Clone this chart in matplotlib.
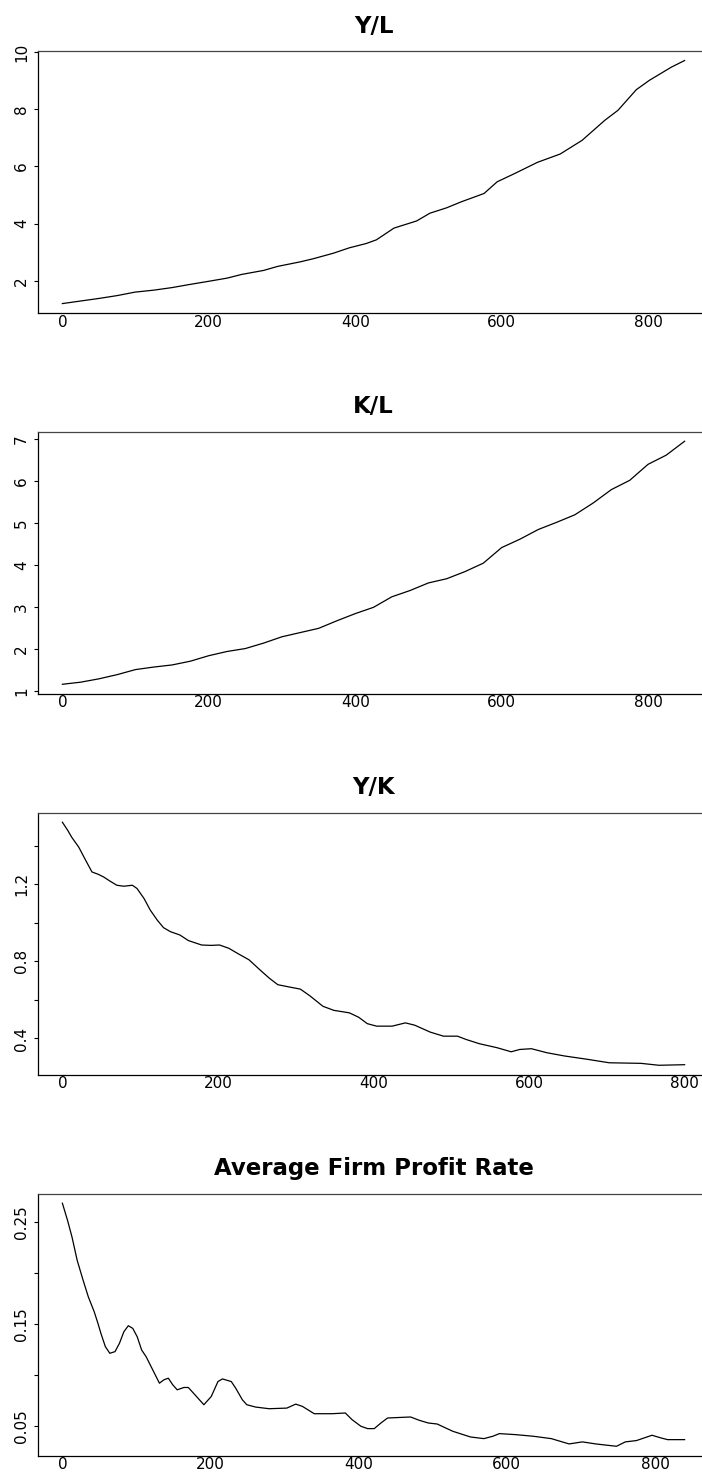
import numpy as np
import matplotlib
matplotlib.use("Agg")
import matplotlib.pyplot as plt

plt.rcParams["font.family"] = ["DejaVu Sans"]

# Y/L : output per worker
yl_t = [0, 25, 50, 75, 99, 125, 150, 172, 200, 225, 245, 275, 294, 325, 343,
        370, 392, 415, 429, 453, 484, 502, 525, 545, 576, 594, 618, 649, 680,
        710, 741, 759, 784, 802, 832, 850]
yl_val = [1.20, 1.29, 1.38, 1.48, 1.60, 1.67, 1.76, 1.86, 1.98, 2.09, 2.22,
          2.36, 2.50, 2.66, 2.77, 2.96, 3.15, 3.30, 3.43, 3.84, 4.09, 4.36,
          4.55, 4.76, 5.05, 5.46, 5.75, 6.14, 6.43, 6.91, 7.61, 7.96, 8.68,
          9.01, 9.47, 9.70]

# K/L : capital per worker
kl_t = [0, 25, 50, 75, 100, 125, 150, 175, 200, 225, 250, 275, 300, 325, 350,
        375, 400, 425, 450, 475, 500, 525, 550, 575, 600, 625, 650, 675, 700,
        725, 750, 775, 800, 825, 850]
kl_val = [1.17, 1.22, 1.30, 1.40, 1.52, 1.58, 1.63, 1.72, 1.85, 1.95, 2.02,
          2.15, 2.30, 2.40, 2.50, 2.68, 2.85, 3.00, 3.25, 3.40, 3.58, 3.68,
          3.85, 4.05, 4.42, 4.62, 4.85, 5.02, 5.20, 5.48, 5.80, 6.02, 6.40,
          6.62, 6.95]

# Y/K : output-capital ratio
yk_t = [0, 7, 12, 21, 30, 38, 46, 53, 61, 70, 79, 90, 96, 105, 113, 122, 130,
        139, 151, 162, 179, 191, 202, 214, 225, 240, 254, 266, 277, 292, 306,
        318, 335, 349, 369, 381, 392, 404, 424, 441, 453, 473, 490, 508, 519,
        536, 559, 577, 588, 603, 623, 646, 675, 703, 744, 767, 800]
yk_val = [1.522, 1.479, 1.444, 1.393, 1.324, 1.264, 1.252, 1.238, 1.217,
          1.195, 1.190, 1.195, 1.178, 1.126, 1.066, 1.014, 0.975, 0.954,
          0.937, 0.908, 0.885, 0.883, 0.885, 0.868, 0.842, 0.808, 0.756,
          0.713, 0.679, 0.667, 0.656, 0.622, 0.567, 0.546, 0.533, 0.510,
          0.477, 0.464, 0.464, 0.481, 0.469, 0.433, 0.412, 0.412, 0.395,
          0.373, 0.352, 0.331, 0.343, 0.347, 0.326, 0.309, 0.292, 0.274,
          0.271, 0.261, 0.264]

# average firm profit rate
pr_t = [0, 7, 13, 20, 28, 35, 43, 48, 52, 58, 64, 71, 77, 83, 89, 95, 101,
        107, 113, 122, 131, 137, 143, 149, 155, 164, 170, 179, 191, 201, 210,
        216, 228, 234, 243, 249, 261, 279, 303, 315, 324, 340, 364, 382, 391,
        403, 412, 421, 430, 439, 470, 482, 494, 506, 527, 551, 569, 581, 590,
        612, 636, 660, 684, 702, 720, 748, 760, 775, 796, 808, 817, 840]
pr_val = [0.2686, 0.2517, 0.2354, 0.2126, 0.1931, 0.1769, 0.1622, 0.1509,
          0.1411, 0.1281, 0.1216, 0.1232, 0.1313, 0.1427, 0.1486, 0.1460,
          0.1378, 0.1248, 0.1183, 0.1053, 0.0923, 0.0956, 0.0972, 0.0907,
          0.0858, 0.0881, 0.0881, 0.0809, 0.0712, 0.0793, 0.0939, 0.0965,
          0.0939, 0.0874, 0.0760, 0.0712, 0.0689, 0.0673, 0.0679, 0.0718,
          0.0696, 0.0624, 0.0624, 0.0631, 0.0566, 0.0501, 0.0478, 0.0478,
          0.0533, 0.0582, 0.0592, 0.0559, 0.0533, 0.0523, 0.0452, 0.0396,
          0.0380, 0.0403, 0.0429, 0.0419, 0.0403, 0.0380, 0.0328, 0.0348,
          0.0328, 0.0305, 0.0348, 0.0361, 0.0413, 0.0387, 0.0370, 0.0370]

panels = [
    ("Y/L", yl_t, yl_val, [2, 4, 6, 8, 10], ["2", "4", "6", "8", "10"]),
    ("K/L", kl_t, kl_val, [1, 2, 3, 4, 5, 6, 7],
     ["1", "2", "3", "4", "5", "6", "7"]),
    ("Y/K", yk_t, yk_val, [0.4, 0.6, 0.8, 1.0, 1.2, 1.4],
     ["0.4", "", "0.8", "", "1.2", ""]),
    ("Average Firm Profit Rate", pr_t, pr_val,
     [0.05, 0.10, 0.15, 0.20, 0.25], ["0.05", "", "0.15", "", "0.25"]),
]

W, H = 702, 1472
fig = plt.figure(figsize=(W / 100, H / 100), dpi=100)

box_bottoms = [313.3, 694, 1075, 1456]
box_h = 262.5
for (title, t, v, yt, ylab), bpx in zip(panels, box_bottoms):
    ax = fig.add_axes([37.5 / W, 1 - bpx / H, 672 / W, box_h / H])
    ax.plot(t, v, color="black", lw=0.9)

    # R-style 4% padding around the data range
    tr = max(t) - min(t)
    ax.set_xlim(min(t) - 0.04 * tr, max(t) + 0.04 * tr)
    vr = max(v) - min(v)
    ax.set_ylim(min(v) - 0.04 * vr, max(v) + 0.04 * vr)

    ax.set_xticks([0, 200, 400, 600, 800])
    ax.set_yticks(yt)
    ax.set_yticklabels(ylab, rotation=90, va="center")
    ax.tick_params(axis="x", length=0, pad=1, labelsize=11)
    ax.tick_params(axis="y", length=3.2, width=0.8, pad=3, labelsize=11)
    for s in ax.spines.values():
        s.set_linewidth(0.9)
    ax.spines["top"].set_color("#444444")
    ax.set_title(title, fontsize=16.5, fontweight="bold", pad=13)

fig.savefig("out.png", dpi=100)
